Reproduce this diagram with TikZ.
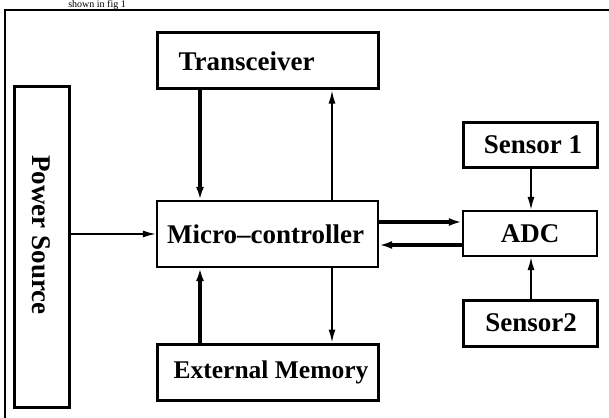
\documentclass[tikz,border=0pt]{standalone}
\usepackage{fontspec}
\setmainfont{Liberation Serif}
\usetikzlibrary{arrows.meta}
\begin{document}
\begin{tikzpicture}[x=1pt,y=-1pt,
  blockbox/.style={draw, line width=3pt, inner sep=0pt, font=\bfseries\fontsize{27}{30}\selectfont},
  thinflow/.style={line width=1.6pt, -{Latex[length=13pt,width=7pt]}},
  boldflow/.style={line width=3.2pt, -{Latex[length=13pt,width=8pt]}}]
\useasboundingbox (0,0) rectangle (609,417);
\clip (0,0) rectangle (609,417);

% caption line running above the frame
\node[anchor=base east, inner sep=0pt, font=\fontsize{10}{12}\selectfont] (cap) at (126,7.4) {shown in fig 1};

% outer frame
\draw[line width=1.8pt] (5,10) rectangle (640,440);

% blocks
\node[blockbox, minimum width=55pt, minimum height=320pt] (power) at (41.5,247) {\rotatebox{-90}{Power Source\hspace*{24pt}}};
\node[blockbox, minimum width=221pt, minimum height=56pt] (trans) at (267.5,61) {\hspace*{-42pt}Transceiver};
\node[blockbox, minimum width=221pt, minimum height=66pt, line width=2.2pt] (mcu) at (267.5,234) {Micro–controller\hspace*{4pt}};
\node[blockbox, minimum width=221pt, minimum height=56pt, font=\bfseries\fontsize{25.5}{30}\selectfont] (mem) at (267.5,372) {\hspace*{7pt}External Memory};
\node[blockbox, minimum width=134pt, minimum height=45pt] (s1) at (530,144.5) {\hspace*{6pt}Sensor 1};
\node[blockbox, minimum width=134pt, minimum height=45pt, line width=2.2pt] (adc) at (530,233.5) {ADC};
\node[blockbox, minimum width=134pt, minimum height=46pt] (s2) at (530,323) {\hspace*{2pt}Sensor2};

% connector guide positions
\coordinate (xl) at (200,0);
\coordinate (xr) at (332,0);
\coordinate (xs) at (531,0);
\coordinate (yu) at (0,222);
\coordinate (yd) at (0,245);

% connectors
\draw[thinflow] (power.east |- mcu.west) -- (mcu.west);
\draw[boldflow] (trans.south -| xl) -- (mcu.north -| xl);
\draw[thinflow] (mcu.north -| xr) -- (trans.south -| xr);
\draw[boldflow] (mem.north -| xl) -- (mcu.south -| xl);
\draw[thinflow] (mcu.south -| xr) -- (mem.north -| xr);
\draw[boldflow] (mcu.east |- yu) -- (adc.west |- yu);
\draw[boldflow] (adc.west |- yd) -- (mcu.east |- yd);
\draw[thinflow] (s1.south -| xs) -- (adc.north -| xs);
\draw[thinflow] (s2.north -| xs) -- (adc.south -| xs);
\end{tikzpicture}
\end{document}
